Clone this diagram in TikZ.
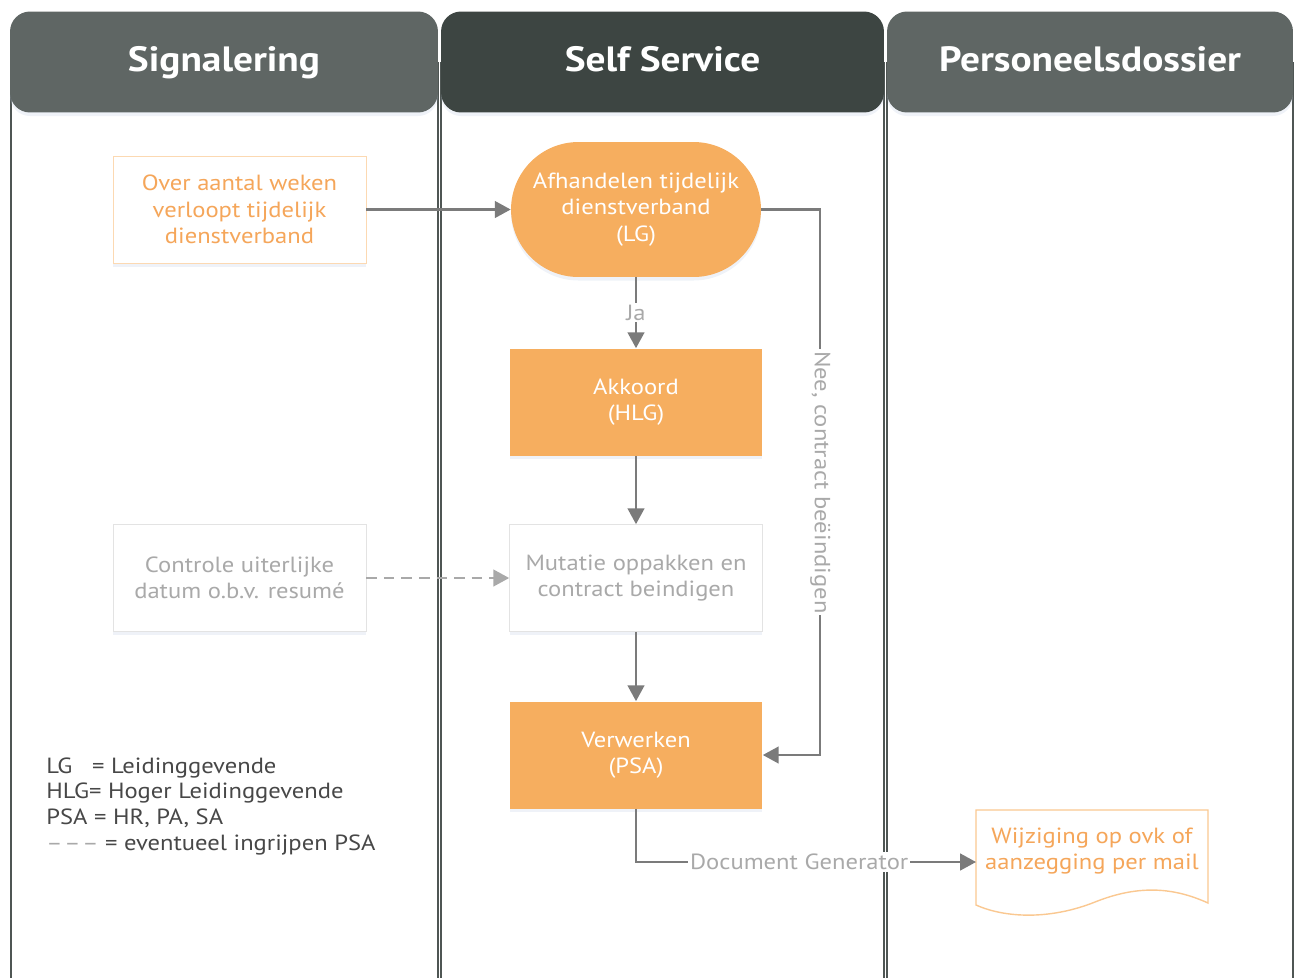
\documentclass[tikz,border=0pt]{standalone}
\usepackage{fontspec}
\setmainfont{PT Sans}[FakeStretch=1.12]
\usetikzlibrary{arrows.meta,shadows}
\definecolor{kopgrijs}{HTML}{5F6664}
\definecolor{kopdonker}{HTML}{3D4542}
\definecolor{baanlijn}{HTML}{4F5654}
\definecolor{oranje}{HTML}{F6AE5F}
\definecolor{oranjetxt}{HTML}{F5A65A}
\definecolor{oranjerand}{HTML}{FCD9B2}
\definecolor{grijstxt}{HTML}{A9A9A9}
\definecolor{grijsrand}{HTML}{E3E3E3}
\definecolor{pijlgrijs}{HTML}{7B7B7B}
\definecolor{legtxt}{HTML}{474747}
\definecolor{schaduw}{HTML}{C9D5E8}
\tikzset{
	schaduwtje/.style={drop shadow={shadow xshift=0pt, shadow yshift=-2pt, fill=schaduw, opacity=0.3}},
	baankop/.style={rounded corners=0.4cm, minimum height=2.02cm, text height=14pt, text depth=3pt, text=white, font=\bfseries\fontsize{20}{24}\selectfont, schaduwtje},
	baan/.style={line width=1.1pt, color=baanlijn},
	doos/.style={rectangle, minimum width=5.06cm, minimum height=2.14cm, align=center, inner sep=2pt, font=\fontsize{12.5}{15}\selectfont, schaduwtje},
	signaal/.style={doos, draw=oranjerand, fill=white, text=oranjetxt},
	taak/.style={doos, fill=oranje, text=white},
	startdoos/.style={doos, fill=oranje, text=white, minimum width=5cm, minimum height=2.7cm, rounded corners=1.35cm},
	grijsdoos/.style={doos, draw=grijsrand, fill=white, text=grijstxt},
	pijl/.style={line width=1.2pt, color=pijlgrijs, -{Triangle[width=9.5pt,length=9pt]}},
	stippel/.style={color=grijstxt, dash pattern=on 6pt off 4pt},
	lbl/.style={text=grijstxt, fill=white, inner sep=1pt, font=\fontsize{12.5}{15}\selectfont},
	legenda/.style={align=left, text=legtxt, inner sep=0pt, font=\fontsize{12.5}{14.7}\selectfont},
}

\begin{document}
\begin{tikzpicture}[x=0.02cm, y=-0.02cm]
			%%%%% START %%%%%
			\useasboundingbox (0,0) rectangle (1301,978);
			
			% swimlanes
			\draw[baan] (11, 62) -- (11, 978);
			\draw[baan] (438, 62) -- (438, 978);
			\draw[baan] (441, 62) -- (441, 978);
			\draw[baan] (884, 62) -- (884, 978);
			\draw[baan] (887, 62) -- (887, 978);
			\draw[baan] (1293, 62) -- (1293, 978);
			
			\node[baankop, fill=kopgrijs, minimum width=8.56cm] (sig) at (224, 62) {Signalering};
			\node[baankop, fill=kopdonker, minimum width=8.86cm] (self) at (662.5, 62) {Self Service};
			\node[baankop, fill=kopgrijs, minimum width=8.12cm] (pers) at (1090, 62) {Personeelsdossier};
			
			% stappen
			\node[signaal] (over) at (239.5, 209.5) {Over aantal weken\\verloopt tijdelijk\\dienstverband};
			\node[startdoos] (afh) at (636, 209.5) {Afhandelen tijdelijk\\dienstverband\\(LG)};
			\node[taak] (akk) at (636, 402) {Akkoord\\(HLG)};
			\node[grijsdoos] (contr) at (239.5, 578) {Controle uiterlijke\\datum o.b.v. resumé};
			\node[grijsdoos] (mut) at (636, 578) {Mutatie oppakken en\\contract beindigen};
			\node[taak] (verw) at (636, 755) {Verwerken\\(PSA)};
			
			% document
			\draw[oranjerand!60!oranje, line width=0.8pt, fill=white] (976, 810) -- (1208, 810) -- (1208, 903)
				.. controls (1175, 888) and (1140, 884) .. (1095, 902)
				.. controls (1050, 920) and (1005, 918) .. (976, 905) -- cycle;
			\node[align=center, text=oranjetxt, font=\fontsize{12.5}{15}\selectfont] (doc) at (1092, 851) {Wijziging op ovk of\\aanzegging per mail};
			\coordinate (docin) at (976, 862);
			
			% verbindingen
			\draw[pijl] (over) -- (afh);
			\draw[pijl] (afh) -- node[lbl] {Ja} (akk);
			\draw[pijl] (akk) -- (mut);
			\draw[pijl] (mut) -- (verw);
			\draw[pijl, stippel] (contr) -- (mut);
			\draw[pijl] (afh.east) -- ++(59, 0) |- node[lbl, pos=0.25, rotate=-90] {Nee, contract beëindigen} (verw.east);
			\draw[pijl] (verw.south) |- node[lbl, pos=0.74] {Document Generator} (docin);
			
			% legenda
			\node[legenda, anchor=north west] (leg) at (46, 757) {LG\ \ \ = Leidinggevende\\HLG= Hoger Leidinggevende\\PSA = HR, PA, SA\\{\color{grijstxt}–\kern1pt–\kern1pt–} = eventueel ingrijpen PSA};
			
			%%%%% END %%%%%
\end{tikzpicture}
\end{document}
